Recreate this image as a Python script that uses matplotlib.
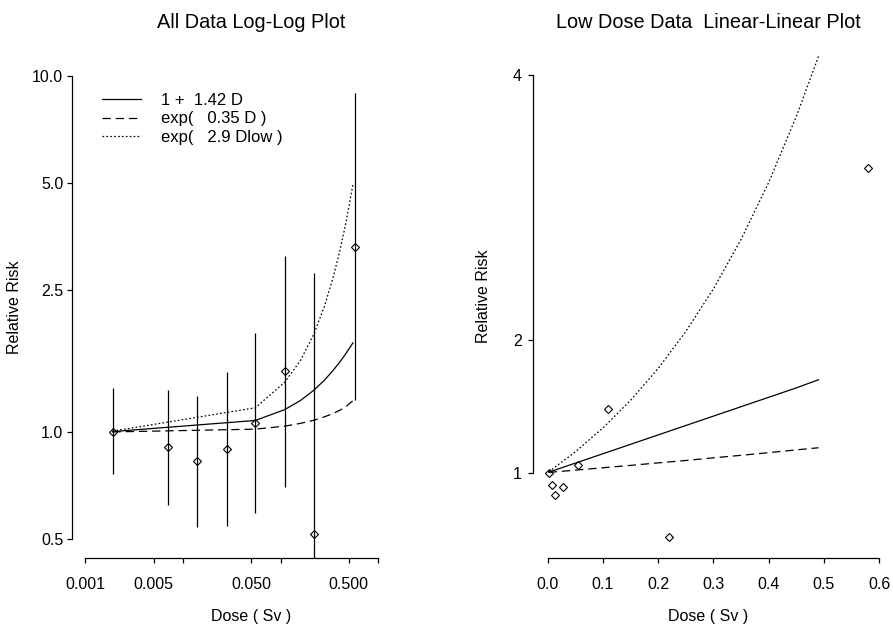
import numpy as np
import matplotlib
matplotlib.use("Agg")
import matplotlib.pyplot as plt

plt.rcParams['font.family'] = ['Liberation Sans', 'DejaVu Sans']
plt.rcParams['lines.scale_dashes'] = False

# data
dose = [0.0019, 0.007, 0.014, 0.028, 0.055, 0.11, 0.22, 0.58]
rr = [1.0, 0.908, 0.831, 0.894, 1.06, 1.48, 0.517, 3.30]
rr_lo = [0.762, 0.625, 0.543, 0.545, 0.594, 0.699, 0.35, 1.232]
rr_hi = [1.329, 1.315, 1.264, 1.47, 1.897, 3.13, 2.79, 8.95]

# fitted curves, left panel (all data)
fit_dose_all = [0.0019, 0.055, 0.11, 0.16, 0.22, 0.28, 0.34, 0.40, 0.46, 0.55]
lin_all = [1.003, 1.078, 1.156, 1.227, 1.312, 1.398, 1.483, 1.568, 1.653, 1.78]
expd_all = [1.001, 1.019, 1.039, 1.058, 1.080, 1.103, 1.126, 1.150, 1.175, 1.225]
explow_all = [1.006, 1.17, 1.38, 1.59, 1.89, 2.25, 2.68, 3.19, 3.80, 4.95]

# fitted curves, right panel (low dose)
fit_dose_low = [0.0019, 0.05, 0.10, 0.15, 0.20, 0.25, 0.30, 0.35, 0.40, 0.45, 0.49]
lin_low = [1.003, 1.071, 1.142, 1.213, 1.284, 1.355, 1.426, 1.497, 1.568, 1.639, 1.70]
expd_low = [1.001, 1.018, 1.036, 1.054, 1.073, 1.091, 1.111, 1.130, 1.150, 1.171, 1.187]
explow_low = [1.006, 1.156, 1.337, 1.545, 1.786, 2.065, 2.387, 2.760, 3.190, 3.688, 4.14]

legend_labels = ["1 +  1.42 D", "exp(   0.35 D )", "exp(   2.9 Dlow )"]

W, H = 893, 629
fig = plt.figure(figsize=(W / 100, H / 100), dpi=100)


def box(x0, x1, y0, y1):
    return [x0 / W, 1 - y1 / H, (x1 - x0) / W, (y1 - y0) / H]


ax1 = fig.add_axes(box(72.3, 428, 57.5, 558.4))
ax2 = fig.add_axes(box(533.3, 883.6, 35.4, 558.4))

dash = (0, (6, 3.5))
dot = (0, (1.2, 1.6))
lw = 0.9

# left panel
ax1.set_xscale('log')
ax1.set_yscale('log')
ax1.vlines(dose, rr_lo, rr_hi, color='black', lw=lw)
ax1.plot(dose, rr, 'D', ms=3.9, mfc='none', mec='black', mew=0.8)
ax1.plot(fit_dose_all, lin_all, color='black', lw=lw, label=legend_labels[0])
ax1.plot(fit_dose_all, expd_all, color='black', lw=lw, ls=dash, label=legend_labels[1])
ax1.plot(fit_dose_all, explow_all, color='black', lw=lw, ls=dot, label=legend_labels[2])
ax1.set_xlim(7.36e-4, 3.23)
ax1.set_ylim(0.4418, 11.27)
ax1.set_xticks([0.001, 0.005, 0.01, 0.05, 0.1, 0.5, 1.0])
ax1.set_xticklabels(["0.001", "0.005", "", "0.050", "", "0.500", ""])
ax1.set_yticks([0.5, 1.0, 2.5, 5.0, 10.0])
ax1.set_yticklabels(["0.5", "1.0", "2.5", "5.0", "10.0"])
ax1.minorticks_off()
ax1.spines['bottom'].set_bounds(0.001, 1.0)
ax1.spines['left'].set_bounds(0.5, 10.0)

leg = ax1.legend(loc='upper left', bbox_to_anchor=(101.7 / W, 1 - 93 / H),
                 bbox_transform=fig.transFigure, frameon=False, fontsize=12,
                 handlelength=2.34, handletextpad=1.2, labelspacing=0.21,
                 borderpad=0, borderaxespad=0)

# right panel
ax2.plot(dose, rr, 'D', ms=3.9, mfc='none', mec='black', mew=0.8)
ax2.plot(fit_dose_low, lin_low, color='black', lw=lw)
ax2.plot(fit_dose_low, expd_low, color='black', lw=lw, ls=dash)
ax2.plot(fit_dose_low, explow_low, color='black', lw=lw, ls=dot)
ax2.set_xlim(-0.0261, 0.6079)
ax2.set_ylim(0.352, 4.299)
ax2.set_xticks([0.0, 0.1, 0.2, 0.3, 0.4, 0.5, 0.6])
ax2.set_xticklabels(["0.0", "0.1", "0.2", "0.3", "0.4", "0.5", "0.6"])
ax2.set_yticks([1, 2, 4])
ax2.set_yticklabels(["1", "2", "4"])
ax2.spines['bottom'].set_bounds(0.0, 0.6)
ax2.spines['left'].set_bounds(1, 4)

for ax in (ax1, ax2):
    ax.patch.set_visible(False)
    ax.spines['top'].set_visible(False)
    ax.spines['right'].set_visible(False)
    ax.spines['left'].set_linewidth(0.9)
    ax.spines['bottom'].set_linewidth(0.9)
    ax.tick_params(axis='x', direction='out', length=3.6, width=0.9, pad=10, labelsize=11.5)
    ax.tick_params(axis='y', direction='out', length=3.6, width=0.9, pad=3, labelsize=11.5)
ax2.tick_params(axis='y', pad=4.5)

# titles and axis labels
fig.text(251 / W, 1 - 28.3 / H, "All Data Log-Log Plot", ha='center', va='baseline', fontsize=14.3)
fig.text(708.5 / W, 1 - 28.3 / H, "Low Dose Data  Linear-Linear Plot", ha='center', va='baseline', fontsize=14.3)
fig.text(251 / W, 1 - 621 / H, "Dose ( Sv )", ha='center', va='baseline', fontsize=11.5)
fig.text(708.5 / W, 1 - 621 / H, "Dose ( Sv )", ha='center', va='baseline', fontsize=11.5)
fig.text(14.5 / W, 1 - 307 / H, "Relative Risk", rotation=90, ha='center', va='center', fontsize=11.5)
fig.text(483 / W, 1 - 296 / H, "Relative Risk", rotation=90, ha='center', va='center', fontsize=11.5)

fig.savefig("out.png", dpi=100)
